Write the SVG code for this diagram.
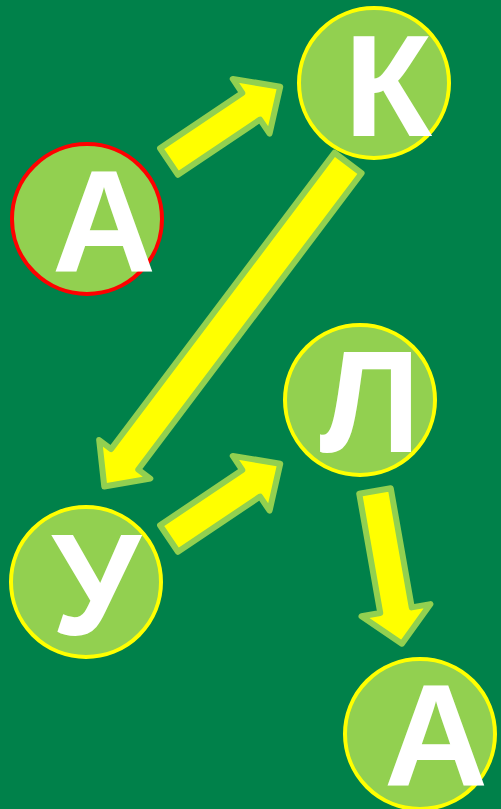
<svg xmlns="http://www.w3.org/2000/svg" width="501" height="809" viewBox="0 0 501 809">
  <defs>
    <style>
      .bg { fill: #00814A; }
      .arrow { fill: #FFFF00; stroke: #92D050; stroke-width: 6; stroke-linejoin: round; }
      .node { fill: #92D050; stroke-width: 4; }
      .start { stroke: #FF0000; }
      .norm { stroke: #FFFF00; }
      .lbl { font-family: "Liberation Sans", Arial, sans-serif; font-weight: bold; font-size: 144px; fill: #FFFFFF; text-anchor: middle; }
    </style>
  </defs>
  <rect class="bg" x="0" y="0" width="501" height="809"/>
  <g id="connectors">
    <polygon class="arrow" transform="translate(169,161.5) rotate(-33.9)" points="0,-16 99,-16 99,-33 134,0 99,33 99,16 0,16"/>
    <polygon class="arrow" transform="translate(348,163) rotate(127)" points="0,-17 371,-17 371,-32 405,0 371,32 371,17 0,17"/>
    <polygon class="arrow" transform="translate(169,538.5) rotate(-33.9)" points="0,-16 99,-16 99,-33 134,0 99,33 99,16 0,16"/>
    <polygon class="arrow" transform="translate(375,491) rotate(80)" points="0,-16 121,-16 121,-35 155,0 121,35 121,16 0,16"/>
  </g>
  <g id="node-a1">
    <circle class="node start" cx="87" cy="219" r="75"/>
    <text class="lbl" x="104" y="271">А</text>
  </g>
  <g id="node-k">
    <circle class="node norm" cx="374" cy="83" r="75"/>
    <text class="lbl" x="388" y="136">К</text>
  </g>
  <g id="node-l">
    <circle class="node norm" cx="360" cy="400" r="75"/>
    <text class="lbl" x="370" y="452">Л</text>
  </g>
  <g id="node-u">
    <circle class="node norm" cx="86" cy="582" r="75"/>
    <text class="lbl" x="96" y="635">У</text>
  </g>
  <g id="node-a2">
    <circle class="node norm" cx="420" cy="734" r="75"/>
    <text class="lbl" x="436" y="785">А</text>
  </g>
</svg>
